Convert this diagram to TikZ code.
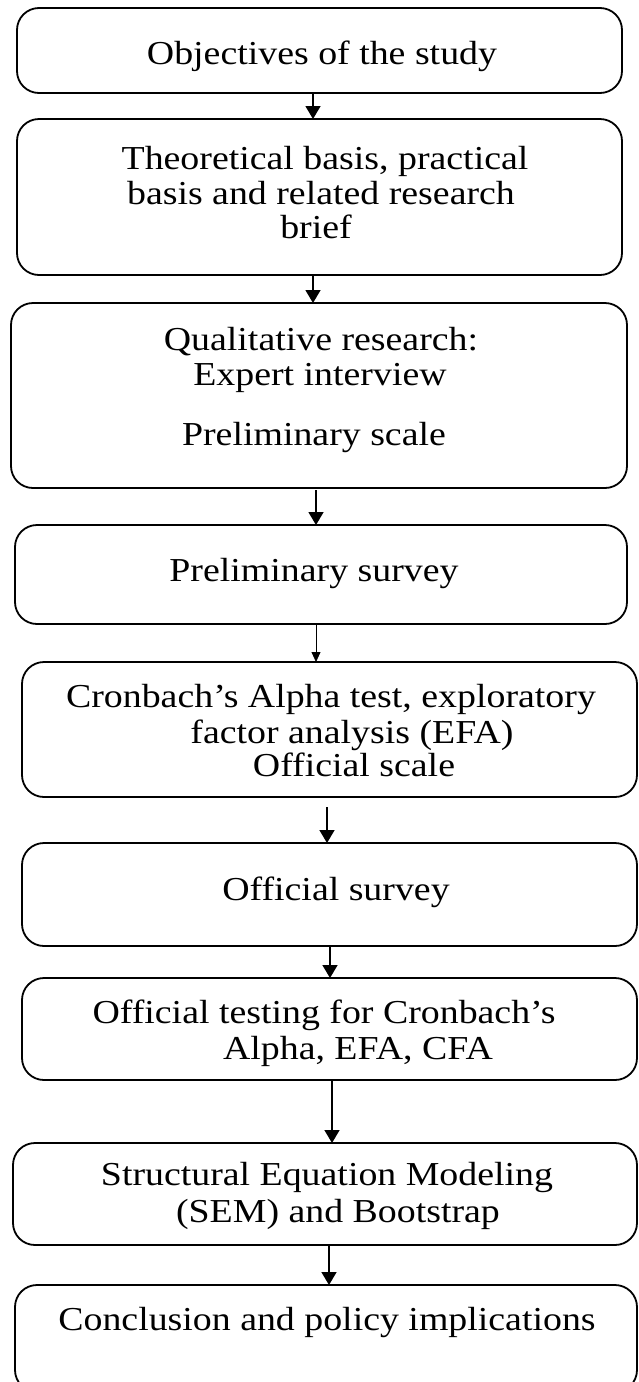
\documentclass[tikz,border=0pt]{standalone}
\usepackage{fontspec}
\setmainfont{Liberation Serif}[FakeStretch=1.13]
\usetikzlibrary{arrows.meta}
\begin{document}
\begin{tikzpicture}[x=1pt,y=-1pt,
  box/.style={draw, line width=1.8pt, rounded corners=22pt, inner sep=0pt, outer sep=0pt},
  lbl/.style={anchor=base, inner sep=0pt, font=\fontsize{33.5}{35}\selectfont},
  arr/.style={line width=1.5pt, -{Triangle[width=15pt,length=13pt]}},
  thinarr/.style={line width=0.8pt, -{Triangle[width=9pt,length=10pt]}}]
\useasboundingbox (0,0) rectangle (638,1382);
% boxes
\node[box, minimum width=605pt, minimum height=85pt]  (b1) at (319.5,50.5) {};
\node[box, minimum width=605pt, minimum height=156pt] (b2) at (319.5,197) {};
\node[box, minimum width=616pt, minimum height=185pt] (b3) at (319,395.5) {};
\node[box, minimum width=612pt, minimum height=99pt]  (b4) at (321,574.5) {};
\node[box, minimum width=615pt, minimum height=135pt] (b5) at (329.5,729.5) {};
\node[box, minimum width=615pt, minimum height=103pt] (b6) at (329.5,894.5) {};
\node[box, minimum width=615pt, minimum height=102pt] (b7) at (329.5,1029) {};
\node[box, minimum width=624pt, minimum height=102pt] (b8) at (325,1194) {};
\node[box, minimum width=622pt, minimum height=107pt] (b9) at (326,1338.5) {};
% texts
\node[lbl] (t1)  at (322,64)  {Objectives of the study};
\node[lbl] (t2a) at (325,169) {Theoretical basis, practical};
\node[lbl] (t2b) at (321,204) {basis and related research};
\node[lbl] (t2c) at (316,238) {brief};
\node[lbl] (t3a) at (321,350) {Qualitative research:};
\node[lbl] (t3b) at (320,385) {Expert interview};
\node[lbl] (t3c) at (314,445) {Preliminary scale};
\node[lbl] (t4)  at (314,581) {Preliminary survey};
\node[lbl] (t5a) at (331,707) {Cronbach\symbol{"27}s Alpha test, exploratory};
\node[lbl] (t5b) at (352,743) {factor analysis (EFA)};
\node[lbl] (t5c) at (354,776) {Official scale};
\node[lbl] (t6)  at (336,900) {Official survey};
\node[lbl] (t7a) at (324,1023) {Official testing for Cronbach’s};
\node[lbl] (t7b) at (358,1059) {Alpha, EFA, CFA};
\node[lbl] (t8a) at (327,1185) {Structural Equation Modeling};
\node[lbl] (t8b) at (338,1222) {(SEM) and Bootstrap};
\node[lbl] (t9)  at (327,1330) {Conclusion and policy implications};
% arrow columns
\coordinate (x1) at (313,0);
\coordinate (x2) at (313,0);
\coordinate (x3) at (316,0);
\coordinate (x4) at (316,0);
\coordinate (x5) at (327,0);
\coordinate (x6) at (330,0);
\coordinate (x7) at (332,0);
\coordinate (x8) at (329,0);
\draw[arr] (b1.south -| x1) -- (b2.north -| x1);
\draw[arr] (b2.south -| x2) -- (b3.north -| x2);
\draw[arr, shorten <=2pt] (b3.south -| x3) -- (b4.north -| x3);
\draw[thinarr] (b4.south -| x4) -- (b5.north -| x4);
\draw[arr, shorten <=10pt] (b5.south -| x5) -- (b6.north -| x5);
\draw[arr] (b6.south -| x6) -- (b7.north -| x6);
\draw[arr] (b7.south -| x7) -- (b8.north -| x7);
\draw[arr] (b8.south -| x8) -- (b9.north -| x8);
\end{tikzpicture}
\end{document}
